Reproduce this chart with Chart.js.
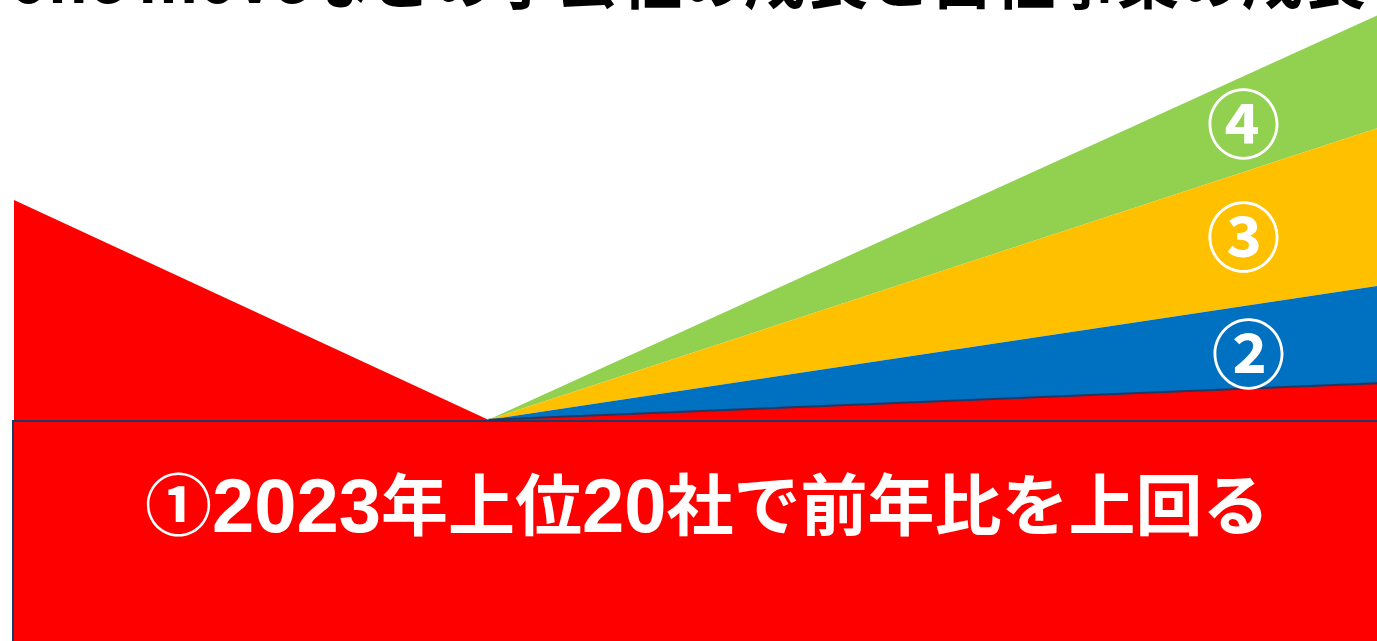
<!DOCTYPE html>
<html>
<head>
<meta charset="utf-8">
<script src="https://cdn.jsdelivr.net/npm/chart.js@4"></script>
<style>
html,body{margin:0;padding:0;background:#fff;overflow:hidden;}
canvas{display:block;}
</style>
</head>
<body>
<canvas id="c" width="1377" height="641"></canvas>
<script>
// ---- data ----
const xPoints = [0, 3.48, 10];               // start, turning point, end
const redValues    = [68.8, 34.5, 40.2];      // ① own business
const blueValues   = [0, 0, 15.2];            // ②
const yellowValues = [0, 0, 24.6];            // ③
const greenValues  = [0, 0, 17.6];            // ④
const bandLabels   = ['②', '③', '④'];
const boxLabel     = '①2023年上位20社で前年比を上回る';
const titleText    = 'one moveなどの子会社の成長と自社事業の成長';

const RED = '#FF0000', BLUE = '#0070C0', YELLOW = '#FFC000', GREEN = '#92D050', NAVY = '#1F3864';

function pts(vals){ return vals.map((v,i)=>({x:xPoints[i], y:v})); }

function drawMixed(ctx, text, x0, cjkBase, digitBase){
  const runs = text.match(/[0-9]+|[^0-9]+/g);
  let cx = x0;
  ctx.textBaseline = 'alphabetic';
  for (const r of runs){
    ctx.save();
    if (/^[0-9]/.test(r)){
      ctx.font = 'bold 76px "Liberation Sans", sans-serif';
      ctx.fillText(r, cx, digitBase);
      cx += ctx.measureText(r).width;
    } else {
      ctx.font = 'bold 67px "Noto Sans CJK JP", sans-serif';
      ctx.fillText(r, cx, cjkBase);
      cx += ctx.measureText(r).width;
    }
    ctx.restore();
  }
}

const overlay = {
  id:'overlay',
  afterDatasetsDraw(chart){
    const {ctx, chartArea, scales:{x, y}} = chart;
    // big red box with label
    const top = Math.round(y.getPixelForValue(redValues[1])) + 1;
    const left = chartArea.left - 2;
    ctx.save();
    ctx.fillStyle = RED;
    ctx.fillRect(left, top, chart.width - left, chart.height - top);
    ctx.fillStyle = NAVY;
    ctx.fillRect(left, top - 1, chart.width - left, 2);
    ctx.fillRect(left, top - 1, 2, chart.height - top + 1);
    ctx.fillStyle = '#fff';
    ctx.textAlign = 'left';
    drawMixed(ctx, boxLabel, 145, top + 109, top + 111);

    // band labels
    const series = [redValues, blueValues, yellowValues, greenValues];
    const lx = 9.02;
    const t = (lx - xPoints[1]) / (xPoints[2] - xPoints[1]);
    const at = (arr) => arr[1] + (arr[2] - arr[1]) * t;
    let cum = at(redValues);
    const offs = [6, -2, 0];
    for (let k = 0; k < 3; k++){
      const inc = at(series[k+1]);
      const mid = cum + inc/2;
      cum += inc;
      const px = x.getPixelForValue(lx) + (k===0?5:0);
      const py = y.getPixelForValue(mid) + offs[k];
      ctx.font = 'bold 74px "Noto Sans CJK JP", sans-serif';
      ctx.fillStyle = '#fff';
      ctx.textAlign = 'center';
      ctx.textBaseline = 'middle';
      ctx.fillText(bandLabels[k], px, py);
      if (k === 1){
        ctx.strokeStyle = '#fff';
        ctx.lineWidth = 1.5;
        ctx.beginPath();
        ctx.arc(px, py, 34, 0, Math.PI*2);
        ctx.stroke();
      }
    }

    // title (cut off at top)
    ctx.font = 'bold 66px "Noto Sans CJK JP", sans-serif';
    ctx.fillStyle = '#000';
    ctx.textAlign = 'left';
    ctx.textBaseline = 'alphabetic';
    const w = ctx.measureText(titleText).width;
    const sx = 1357 / w;
    ctx.translate(9, 3);
    ctx.scale(sx, 1);
    ctx.fillText(titleText, 0, 0);
    ctx.restore();
  }
};

new Chart(document.getElementById('c'), {
  type:'line',
  data:{
    datasets:[
      {data:pts(redValues), backgroundColor:RED, fill:'origin', borderWidth:2,
       segment:{borderColor: c => c.p0DataIndex === 0 ? 'rgba(0,0,0,0)' : NAVY},
       pointRadius:0, tension:0},
      {data:pts(blueValues), backgroundColor:BLUE, borderColor:'rgba(0,0,0,0)', fill:'-1', borderWidth:0, pointRadius:0, tension:0},
      {data:pts(yellowValues), backgroundColor:YELLOW, borderColor:'rgba(0,0,0,0)', fill:'-1', borderWidth:0, pointRadius:0, tension:0},
      {data:pts(greenValues), backgroundColor:GREEN, borderColor:'rgba(0,0,0,0)', fill:'-1', borderWidth:0, pointRadius:0, tension:0}
    ]
  },
  options:{
    responsive:false,
    animation:false,
    devicePixelRatio:1,
    layout:{padding:{left:14, right:0, top:0, bottom:0}},
    plugins:{legend:{display:false}, tooltip:{enabled:false}, title:{display:false}},
    scales:{
      x:{type:'linear', min:0, max:10, display:false},
      y:{min:0, max:100, display:false, stacked:true}
    }
  },
  plugins:[overlay]
});
</script>
</body>
</html>
